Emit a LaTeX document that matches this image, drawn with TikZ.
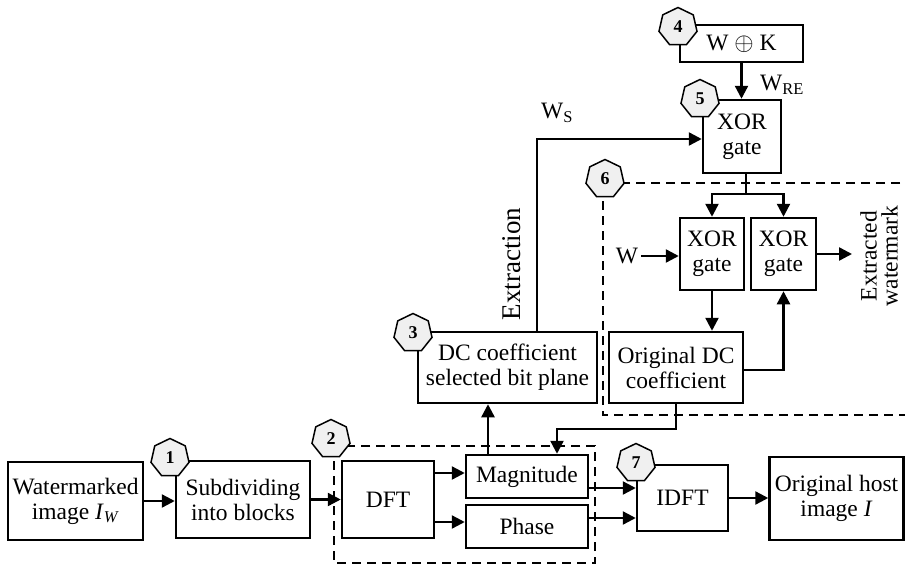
\documentclass[tikz,border=0pt]{standalone}
\usepackage{fontspec}
\setmainfont{Liberation Serif}
\usetikzlibrary{arrows.meta,shapes.geometric,calc}
\tikzset{
  blk/.style={draw,line width=2.5pt,fill=white,align=center,inner sep=0pt,font=\fontsize{23.5}{25}\selectfont},
  hept/.style={draw,regular polygon,regular polygon sides=7,fill=gray!12,line width=1.5pt,minimum size=39pt,inner sep=0pt,font=\bfseries\fontsize{18}{18}\selectfont},
  arr/.style={line width=2.4pt,-{Triangle[length=13pt,width=13pt]}},
  ln/.style={line width=2.4pt},
  dashbox/.style={line width=2.4pt,dash pattern=on 9pt off 6pt},
  lbl/.style={inner sep=0pt,font=\fontsize{23.5}{21}\selectfont,align=center}
}
\begin{document}
\begin{tikzpicture}[x=1pt,y=-1pt]
\useasboundingbox (0,0) rectangle (905,565);
% dashed groups
\draw[dashbox] (334,446) rectangle (595,563);
\draw[dashbox] (915,183) -| (603,415) -- (915,415);
% blocks
\node[blk,minimum width=135pt,minimum height=78pt] (wm) at (75.5,501) {Watermarked\\image \textit{I}\textsubscript{\textit{W}}};
\node[blk,minimum width=134pt,minimum height=77pt] (sub) at (243,499.5) {Subdividing\\into blocks};
\node[blk,minimum width=92pt,minimum height=77pt] (dft) at (388,499.5) {DFT};
\node[blk,minimum width=122pt,minimum height=43pt] (mag) at (527,476.5) {Magnitude};
\node[blk,minimum width=122pt,minimum height=43pt] (pha) at (527,526.5) {Phase};
\node[blk,minimum width=91pt,minimum height=66pt] (idft) at (682.5,498) {IDFT};
\node[blk,minimum width=134pt,minimum height=83pt] (host) at (836.5,498.5) {Original host\\image \textit{I}};
\node[blk,minimum width=179pt,minimum height=71pt] (dc) at (507.5,367.5) {DC coefficient\\selected bit plane};
\node[blk,minimum width=134pt,minimum height=71pt] (odc) at (676,367.5) {Original DC\\coefficient};
\node[blk,minimum width=64pt,minimum height=72pt] (xa) at (712,254) {XOR\\gate};
\node[blk,minimum width=65pt,minimum height=72pt] (xb) at (783.5,254) {XOR\\gate};
\node[blk,minimum width=78pt,minimum height=73pt] (xor5) at (742,136.5) {XOR\\gate};
\node[blk,minimum width=123pt,minimum height=37pt] (wk) at (741.5,43.5) {W $\oplus$ K};
% labels
\node[lbl] (wlab) at (627,256) {W};
\node[lbl] (ws) at (557,113) {W\textsubscript{S}};
\node[lbl] (wre) at (782,85) {W\textsubscript{RE}};
\node[lbl,rotate=90,font=\fontsize{27}{27}\selectfont] (extr) at (512,264) {Extraction};
\node[lbl,rotate=90] (exw) at (879,256) {Extracted\\watermark};
\coordinate (out) at (852,254);
% connectors
\draw[arr] (wm.east) -- (wm.east -| sub.west);
\draw[arr] (sub.east) -- (dft.west);
\draw[arr] ([yshift=3.5pt]dft.east |- mag.west) -- ([yshift=3.5pt]mag.west);
\draw[arr] ([yshift=4.5pt]dft.east |- pha.west) -- ([yshift=4.5pt]pha.west);
\draw[arr] ([yshift=-11.5pt]mag.east) -- ([yshift=-11.5pt]mag.east -| idft.west);
\draw[arr] ([yshift=8.5pt]pha.east) -- ([yshift=8.5pt]pha.east -| idft.west);
\draw[arr] (idft.east) -- (idft.east -| host.west);
\draw[arr] ([xshift=-39pt]mag.north) -- ([xshift=-39pt]mag.north |- dc.south);
\draw[arr] (odc.south) -- ++(0,25) -| ([xshift=30pt]mag.north);
\draw[arr] ([xshift=29.5pt]dc.north) |- ([yshift=-2.5pt]xor5.west);
\draw[arr] (wk.south) -- (wk.south |- xor5.north);
\draw[ln] ([xshift=4pt]xor5.south) -- ++(0,20) coordinate (sp);
\draw[arr] (sp) -| (xa.north);
\draw[arr] (sp) -| (xb.north);
\draw[arr] ([xshift=3pt]wlab.east) -- (xa.west |- wlab.east);
\draw[arr] (xb.east) -- (out);
\draw[arr] (xa.south) -- (xa.south |- odc.north);
\draw[arr] ([yshift=-2.5pt]odc.east) -| (xb.south);
% step markers
\node[hept] (h1) at (170,458) {1};
\node[hept] (h2) at (331,439) {2};
\node[hept] (h3) at (413,333) {3};
\node[hept] (h4) at (678,27) {4};
\node[hept] (h5) at (700,99) {5};
\node[hept] (h6) at (605,179) {6};
\node[hept] (h7) at (636,463) {7};
\end{tikzpicture}
\end{document}
